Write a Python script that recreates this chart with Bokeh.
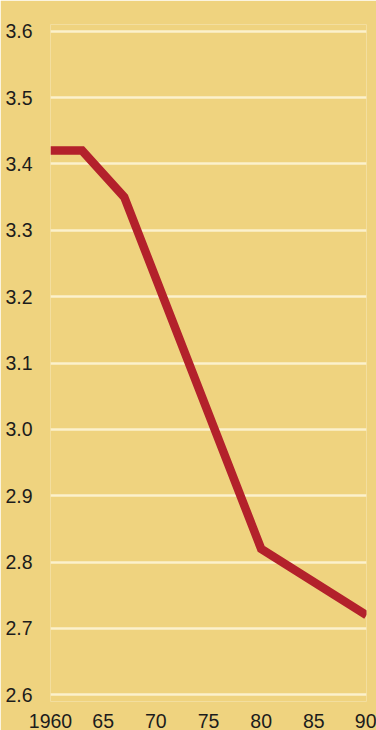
from bokeh.plotting import figure
from bokeh.models import FixedTicker, Range1d, ColumnDataSource
from bokeh.embed import file_html
from bokeh.resources import INLINE

# Data
years = [1960, 1963, 1967, 1980, 1990]
values = [3.42, 3.42, 3.35, 2.82, 2.72]

x_ticks = [1960, 1965, 1970, 1975, 1980, 1985, 1990]
x_tick_labels = ["1960", "65", "70", "75", "80", "85", "90"]
y_ticks = [2.6, 2.7, 2.8, 2.9, 3.0, 3.1, 3.2, 3.3, 3.4, 3.5, 3.6]
y_tick_labels = ["2.6", "2.7", "2.8", "2.9", "3.0", "3.1", "3.2", "3.3", "3.4", "3.5", "3.6"]

BG = "#efd37f"
FONT = "Liberation Sans"

p = figure(width=376, height=730, output_backend="svg", toolbar_location=None,
           x_range=Range1d(1960, 1990), y_range=Range1d(2.59, 3.61),
           min_border_left=50, min_border_right=10, min_border_top=24, min_border_bottom=29)

p.background_fill_color = BG
p.border_fill_color = BG
p.outline_line_color = None

src = ColumnDataSource(dict(x=years, y=values))
p.line("x", "y", source=src, line_color="#b3212b", line_width=8.5, line_join="miter", line_cap="butt")

p.xgrid.grid_line_color = None
p.ygrid.grid_line_color = "#fcf1cc"
p.ygrid.grid_line_width = 2.5
p.ygrid.ticker = FixedTicker(ticks=y_ticks)

for ax in (p.xaxis[0], p.yaxis[0]):
    ax.axis_line_color = None
    ax.major_tick_line_color = None
    ax.minor_tick_line_color = None
    ax.major_label_text_font = FONT
    ax.major_label_text_font_size = "19.5px"
    ax.major_label_text_color = "#1c1c1c"

p.xaxis[0].ticker = FixedTicker(ticks=x_ticks)
p.xaxis[0].major_label_overrides = {t: l for t, l in zip(x_ticks, x_tick_labels)}
p.xaxis[0].major_label_standoff = 6
p.yaxis[0].ticker = FixedTicker(ticks=y_ticks)
p.yaxis[0].major_label_overrides = {t: l for t, l in zip(y_ticks, y_tick_labels)}
p.yaxis[0].major_label_standoff = 12

open("out.html", "w").write(file_html(p, INLINE))
